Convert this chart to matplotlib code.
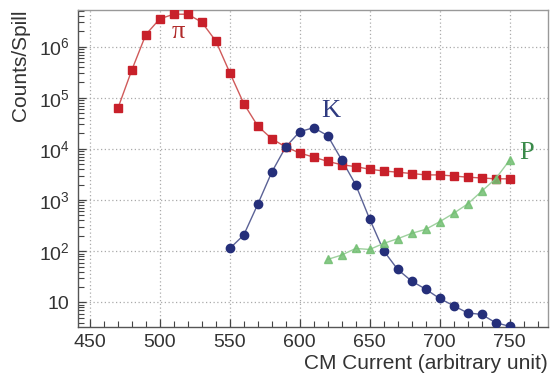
import numpy as np
import matplotlib
matplotlib.use("Agg")
import matplotlib.pyplot as plt
from matplotlib.ticker import FixedLocator, FuncFormatter, LogLocator, MultipleLocator

plt.rcParams["font.family"] = ["Liberation Sans", "DejaVu Sans"]
plt.rcParams["mathtext.fontset"] = "custom"
plt.rcParams["mathtext.rm"] = "Liberation Sans"
plt.rcParams["mathtext.it"] = "Liberation Sans"

# -----------------------------
# Data
# -----------------------------
pi_x = [470, 480, 490, 500, 510, 520, 530, 540, 550, 560, 570, 580, 590, 600,
        610, 620, 630, 640, 650, 660, 670, 680, 690, 700, 710, 720, 730, 740, 750]
pi_y = [6.2e4, 3.5e5, 1.72e6, 3.5e6, 4.3e6, 4.3e6, 3.0e6, 1.29e6, 3.1e5, 7.7e4,
        2.8e4, 1.58e4, 1.09e4, 8.3e3, 6.9e3, 5.7e3, 4.9e3, 4.5e3, 4.0e3, 3.7e3,
        3.5e3, 3.3e3, 3.1e3, 3.1e3, 2.95e3, 2.8e3, 2.7e3, 2.6e3, 2.6e3]

k_x = [550, 560, 570, 580, 590, 600, 610, 620, 630, 640, 650, 660, 670, 680,
       690, 700, 710, 720, 730, 740, 750]
k_y = [113, 207, 825, 3.5e3, 1.09e4, 2.17e4, 2.6e4, 1.81e4, 6.1e3, 2.0e3, 425,
       102, 44, 26, 18.1, 11.9, 8.6, 6.2, 5.8, 4.0, 3.4]

p_x = [620, 630, 640, 650, 660, 670, 680, 690, 700, 710, 720, 730, 740, 750]
p_y = [69, 84, 113, 108, 142, 175, 223, 267, 376, 550, 835, 1.48e3, 2.6e3, 6.0e3]

y_ticks = [10, 1e2, 1e3, 1e4, 1e5, 1e6]

# -----------------------------
# Figure
# -----------------------------
fig = plt.figure(figsize=(5.5, 3.83), dpi=100)
ax = fig.add_axes([0.1418, 0.1462, 0.8546, 0.8277])

ax.plot(pi_x, pi_y, "-", color="#d05a5a", lw=1.0, zorder=3)
ax.plot(pi_x, pi_y, "s", color="#c8202a", ms=6.4, mec="#c8202a", zorder=4)

ax.plot(k_x, k_y, "-", color="#5b6296", lw=1.0, zorder=3)
ax.plot(k_x, k_y, "o", color="#252f7a", ms=6.0, zorder=4)

ax.plot(p_x, p_y, "-", color="#9fd09f", lw=1.0, zorder=5)
ax.plot(p_x, p_y, "^", color="#72bf72", ms=5.8, alpha=0.85, zorder=5)

serif = ["Liberation Serif", "DejaVu Serif"]
ax.text(513, 1.9e6, "\u03c0", color="#b02a2a", fontsize=19,
        family=serif, ha="center", va="center")
ax.text(622, 5.4e4, "K", color="#2f3a80", fontsize=19,
        family=serif, ha="center", va="center")
ax.text(762, 8.4e3, "P", color="#3a8a4a", fontsize=19,
        family=serif, ha="center", va="center")

ax.set_yscale("log")
ax.set_xlim(441.5, 777.5)
ax.set_ylim(3.29, 5.2e6)

ax.xaxis.set_major_locator(MultipleLocator(50))
ax.xaxis.set_minor_locator(MultipleLocator(10))
ax.yaxis.set_major_locator(FixedLocator(y_ticks))
ax.yaxis.set_minor_locator(LogLocator(base=10, subs=np.arange(2, 10)))


def fmt(v, pos):
    e = int(round(np.log10(v)))
    if e == 1:
        return "10"
    return r"$\mathregular{10^{%d}}$" % e


ax.yaxis.set_major_formatter(FuncFormatter(fmt))
ax.yaxis.set_minor_formatter(FuncFormatter(lambda v, p: ""))

ax.tick_params(axis="both", which="both", direction="in", top=False, right=False,
               colors="#444444", labelcolor="#333333")
ax.tick_params(axis="both", which="major", length=6, width=0.9, labelsize=14)
ax.tick_params(axis="x", which="major", pad=5)
ax.tick_params(axis="y", which="major", pad=6)
ax.tick_params(axis="both", which="minor", length=4, width=0.8)

ax.grid(True, which="major", color="#aaaaaa", linestyle=(0, (1, 2)), lw=0.9)

for s in ["left", "bottom"]:
    ax.spines[s].set_color("#555555")
    ax.spines[s].set_linewidth(1.0)
for s in ["top", "right"]:
    ax.spines[s].set_color("#999999")
    ax.spines[s].set_linewidth(1.0)

ax.set_xlabel("CM Current (arbitrary unit)", fontsize=15, color="#333333",
              ha="right", x=1.0, labelpad=2)
ax.set_ylabel("Counts/Spill", fontsize=15, color="#333333",
              ha="right", y=1.0, labelpad=6)

fig.savefig("out.png", dpi=100)
